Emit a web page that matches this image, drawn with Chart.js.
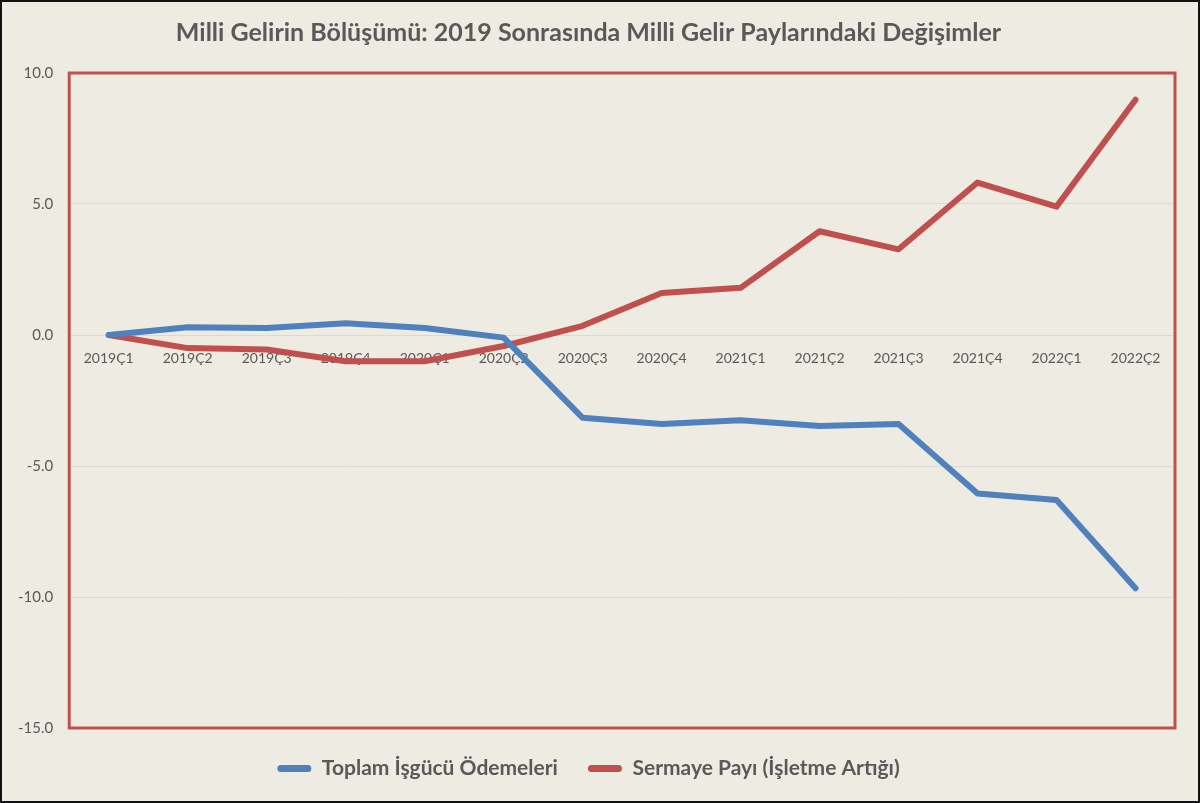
<!DOCTYPE html>
<html lang="tr">
<head>
<meta charset="utf-8">
<title>Milli Gelirin Bölüşümü</title>
<script src="https://cdn.jsdelivr.net/npm/chart.js@4/dist/chart.umd.min.js"></script>
<style>
    html, body { margin: 0; padding: 0; background: #eeebe2; }
    #frame {
        width: 1200px;
        height: 803px;
        box-sizing: border-box;
        border: 2px solid #111;
        background: #eeebe2;
    }
    #chartWrap { position: relative; width: 1196px; height: 799px; }
</style>
</head>
<body>
<div id="frame">
    <div id="chartWrap"><canvas id="shareChart"></canvas></div>
</div>
<script>
// Quarters (Ç = çeyrek)
const quarters = ['2019Ç1', '2019Ç2', '2019Ç3', '2019Ç4', '2020Ç1', '2020Ç2', '2020Ç3',
    '2020Ç4', '2021Ç1', '2021Ç2', '2021Ç3', '2021Ç4', '2022Ç1', '2022Ç2'];

// Change in share of national income since 2019Ç1 (percentage points)
const laborPayments = [0, 0.3, 0.27, 0.45, 0.27, -0.1, -3.16, -3.4, -3.25, -3.47, -3.4, -6.05, -6.3, -9.67];
const capitalShare = [0, -0.5, -0.55, -1.0, -1.0, -0.42, 0.35, 1.6, 1.8, 3.96, 3.27, 5.82, 4.9, 8.98];

const yTicks = [10, 5, 0, -5, -10, -15];

const blue = '#4f81bd';
const red = '#c0504d';
const textGrey = '#595959';

// red frame around the plot area
const plotFrame = {
    id: 'plotFrame',
    afterDraw(chart) {
        const { ctx, chartArea } = chart;
        ctx.save();
        ctx.strokeStyle = red;
        ctx.lineWidth = 3;
        ctx.strokeRect(chartArea.left, chartArea.top, chartArea.right - chartArea.left, chartArea.bottom - chartArea.top);
        ctx.restore();
    }
};

document.addEventListener('DOMContentLoaded', () => {
    const ctx = document.getElementById('shareChart');

    new Chart(ctx, {
        type: 'line',
        data: {
            labels: quarters,
            datasets: [
                {
                    label: 'Toplam İşgücü Ödemeleri',
                    data: laborPayments,
                    borderColor: blue,
                    backgroundColor: blue,
                    borderWidth: 6,
                    tension: 0,
                    pointRadius: 0,
                    borderCapStyle: 'round',
                    borderJoinStyle: 'round'
                },
                {
                    label: 'Sermaye Payı (İşletme Artığı)',
                    data: capitalShare,
                    borderColor: red,
                    backgroundColor: red,
                    borderWidth: 6,
                    tension: 0,
                    pointRadius: 0,
                    borderCapStyle: 'round',
                    borderJoinStyle: 'round'
                }
            ]
        },
        options: {
            responsive: true,
            maintainAspectRatio: false,
            animation: false,
            layout: {
                padding: { left: 0, right: 23, top: 0, bottom: 12 }
            },
            scales: {
                x: {
                    position: { y: 0 },
                    offset: true,
                    grid: { display: false },
                    border: { display: false },
                    ticks: {
                        color: textGrey,
                        font: { family: 'Lato', size: 14 },
                        maxRotation: 0,
                        autoSkip: false,
                        padding: 7
                    }
                },
                y: {
                    min: -15,
                    max: 10,
                    afterBuildTicks: (axis) => {
                        axis.ticks = yTicks.map(v => ({ value: v }));
                    },
                    grid: {
                        color: '#d9d9d9',
                        drawTicks: false
                    },
                    border: { display: false },
                    ticks: {
                        color: textGrey,
                        font: { family: 'Lato', size: 15 },
                        padding: 16,
                        callback: (v) => Number(v).toFixed(1)
                    }
                }
            },
            plugins: {
                title: {
                    display: true,
                    text: 'Milli Gelirin Bölüşümü: 2019 Sonrasında Milli Gelir Paylarındaki Değişimler',
                    color: textGrey,
                    font: { family: 'Lato', size: 25, weight: 'bold' },
                    padding: { top: 16, bottom: 25 }
                },
                legend: {
                    display: true,
                    position: 'bottom',
                    labels: {
                        color: textGrey,
                        font: { family: 'Lato', size: 21, weight: 'bold' },
                        boxWidth: 34,
                        boxHeight: 7,
                        useBorderRadius: true,
                        borderRadius: 3.5,
                        padding: 30,
                        generateLabels: (chart) => {
                            const items = Chart.defaults.plugins.legend.labels.generateLabels(chart);
                            return items.map(it => Object.assign(it, { lineWidth: 0 }));
                        }
                    }
                },
                tooltip: {
                    mode: 'index',
                    intersect: false
                }
            }
        },
        plugins: [plotFrame]
    });
});
</script>
</body>
</html>
